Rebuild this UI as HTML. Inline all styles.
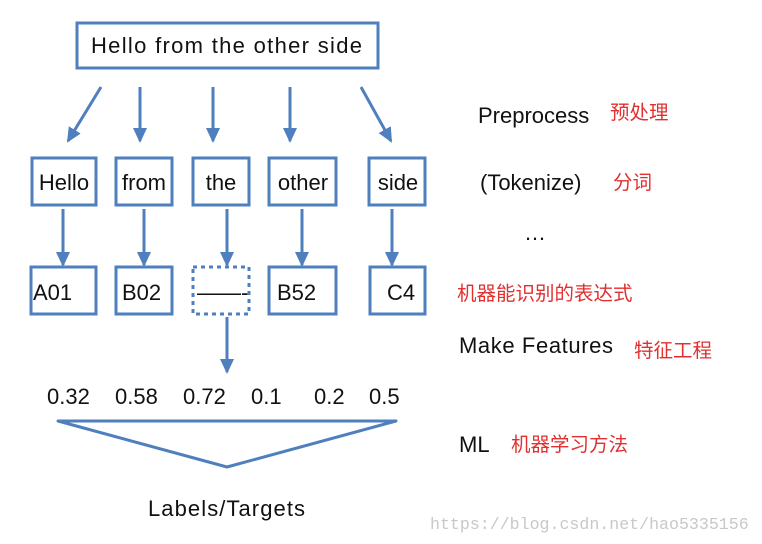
<!DOCTYPE html>
<html><head><meta charset="utf-8"><style>
body{margin:0;background:#fff;}
svg{display:block}
text{font-family:"Liberation Sans","DejaVu Sans",sans-serif;fill:#111}
.cn{font-family:"Liberation Sans","Noto Sans CJK SC",sans-serif;fill:#e03030;font-size:19.5px}
.wm{font-family:"Liberation Mono",monospace;font-size:16.6px;fill:#c8c8c8}
</style></head><body>
<svg width="762" height="544" viewBox="0 0 762 544" xmlns="http://www.w3.org/2000/svg">
<defs><marker id="a" markerWidth="16" markerHeight="16" refX="13" refY="8" orient="auto" markerUnits="userSpaceOnUse"><path d="M0,1 L15,8 L0,15 z" fill="#4f7fbd"/></marker></defs>
<g fill="none" stroke="#4f7fbd" stroke-width="3">
<rect x="77" y="23" width="301" height="45"/>
<rect x="32" y="158" width="64" height="47"/>
<rect x="116" y="158" width="56" height="47"/>
<rect x="193" y="158" width="56" height="47"/>
<rect x="269" y="158" width="67" height="47"/>
<rect x="369" y="158" width="56" height="47"/>
<rect x="31" y="267" width="65" height="47"/>
<rect x="116" y="267" width="56" height="47"/>
<rect x="193" y="267" width="56" height="47" stroke-dasharray="4,4"/>
<rect x="269" y="267" width="67" height="47"/>
<rect x="370" y="267" width="55" height="47"/>
<g marker-end="url(#a)">
<line x1="101" y1="87" x2="68" y2="141"/>
<line x1="140" y1="87" x2="140" y2="141"/>
<line x1="213" y1="87" x2="213" y2="141"/>
<line x1="290" y1="87" x2="290" y2="141"/>
<line x1="361" y1="87" x2="391" y2="141"/>
<line x1="63" y1="209" x2="63" y2="265"/>
<line x1="144" y1="209" x2="144" y2="265"/>
<line x1="227" y1="209" x2="227" y2="265"/>
<line x1="302" y1="209" x2="302" y2="265"/>
<line x1="392" y1="209" x2="392" y2="265"/>
<line x1="227" y1="317" x2="227" y2="372"/>
</g>
<polygon points="58,421 396,421 227,467" stroke-linejoin="round"/>
</g>
<g font-size="22">
<text x="91" y="53" textLength="271" lengthAdjust="spacing">Hello from the other side</text>
<text x="64" y="190" text-anchor="middle">Hello</text>
<text x="144" y="190" text-anchor="middle">from</text>
<text x="221" y="190" text-anchor="middle">the</text>
<text x="303" y="190" text-anchor="middle">other</text>
<text x="398" y="190" text-anchor="middle">side</text>
<text x="33" y="300">A01</text>
<text x="122" y="300">B02</text>
<text x="197" y="300">——-</text>
<text x="277" y="300">B52</text>
<text x="387" y="300">C4</text>
<text x="47" y="404">0.32</text>
<text x="115" y="404">0.58</text>
<text x="183" y="404">0.72</text>
<text x="251" y="404">0.1</text>
<text x="314" y="404">0.2</text>
<text x="369" y="404">0.5</text>
<text x="148" y="516" textLength="157" lengthAdjust="spacing">Labels/Targets</text>
<text x="478" y="123">Preprocess</text>
<text x="480" y="190">(Tokenize)</text>
<text x="524" y="240">…</text>
<text x="459" y="353" textLength="154" lengthAdjust="spacing">Make Features</text>
<text x="459" y="452">ML</text>
</g>
<text class="cn" x="610" y="119">预处理</text>
<text class="cn" x="613" y="189">分词</text>
<text class="cn" x="457" y="300">机器能识别的表达式</text>
<text class="cn" x="634" y="357">特征工程</text>
<text class="cn" x="511" y="451">机器学习方法</text>
<text class="wm" x="430" y="529">https://blog.csdn.net/hao5335156</text>
</svg>
</body></html>
